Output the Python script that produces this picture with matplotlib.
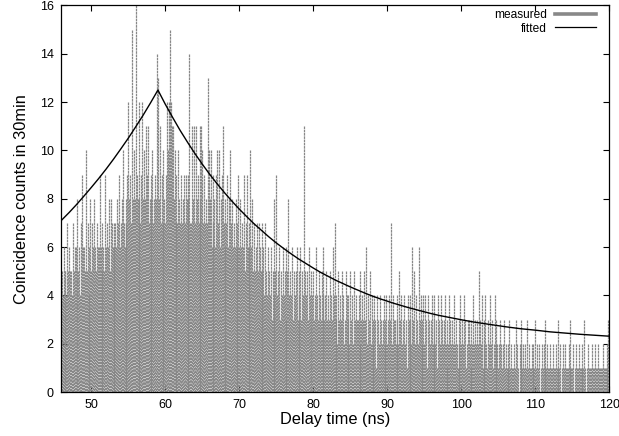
import numpy as np
import matplotlib
matplotlib.use("Agg")
import matplotlib.pyplot as plt
from matplotlib.collections import LineCollection
from matplotlib.lines import Line2D

plt.rcParams['font.family'] = ['Liberation Sans', 'DejaVu Sans']
plt.rcParams['lines.scale_dashes'] = False

# ---------------- data ----------------
bin_start = 45.875   # ns, first bin
bin_width = 0.125    # ns

counts_46_54 = [5,
    5, 4, 6, 5, 5, 4, 7, 5,
    6, 5, 5, 4, 7, 5, 6, 6,
    5, 8, 5, 6, 4, 7, 9, 6,
    6, 5, 10, 5, 7, 4, 6, 8,
    5, 7, 6, 8, 6, 5, 7, 6,
    6, 9, 6, 5, 7, 6, 5, 9,
    6, 7, 6, 8, 5, 8, 7, 6,
    7, 6, 7, 6, 8, 7, 9, 6]
counts_54_62 = [
    7, 8, 10, 7, 6, 8, 7, 9,
    12, 8, 9, 7, 15, 8, 10, 8,
    16, 9, 8, 8, 12, 7, 9, 12,
    8, 10, 8, 11, 9, 11, 7, 8,
    8, 9, 10, 7, 8, 9, 8, 14,
    13, 8, 11, 7, 9, 7, 10, 8,
    7, 9, 12, 10, 12, 15, 12, 11,
    11, 8, 10, 7, 9, 7, 10, 8]
counts_62_70 = [
    7, 9, 7, 8, 9, 7, 9, 8,
    9, 8, 14, 7, 7, 11, 8, 11,
    7, 11, 8, 9, 7, 11, 8, 11,
    10, 7, 9, 7, 8, 7, 13, 10,
    8, 10, 6, 9, 7, 8, 6, 9,
    10, 7, 10, 6, 8, 9, 11, 7,
    8, 6, 7, 9, 6, 8, 10, 7,
    8, 6, 7, 6, 8, 6, 7, 9]
counts_70_80 = [
    6, 8, 6, 7, 6, 9, 5, 7,
    9, 6, 7, 6, 10, 6, 8, 5,
    7, 5, 6, 7, 5, 7, 6, 5,
    7, 5, 6, 4, 7, 5, 4, 6,
    5, 4, 6, 3, 5, 8, 4, 5,
    9, 4, 5, 6, 3, 5, 4, 6,
    4, 5, 3, 6, 5, 8, 4, 5,
    4, 6, 3, 5, 4, 5, 6, 3,
    5, 4, 6, 3, 5, 4, 11, 5,
    4, 5, 3, 6, 4, 5, 3, 4]
counts_80_90 = [
    5, 3, 4, 6, 4, 3, 5, 4,
    3, 5, 4, 6, 3, 4, 5, 3,
    4, 3, 5, 4, 3, 6, 4, 7,
    3, 4, 2, 5, 3, 4, 3, 5,
    4, 2, 3, 5, 4, 3, 4, 2,
    5, 3, 4, 2, 5, 3, 4, 3,
    3, 4, 5, 2, 3, 4, 3, 5,
    3, 6, 2, 4, 3, 5, 2, 4,
    3, 2, 4, 3, 1, 4, 3, 2,
    4, 3, 2, 3, 4, 2, 3, 4]
counts_90_105 = [
    2, 3, 4, 3, 7, 2, 4, 3,
    3, 2, 4, 3, 2, 5, 3, 4,
    2, 3, 4, 2, 3, 1, 4, 3,
    3, 4, 2, 6, 3, 5, 2, 4,
    3, 2, 6, 3, 4, 2, 3, 4,
    2, 4, 3, 1, 4, 3, 2, 3,
    4, 2, 3, 4, 2, 3, 1, 4,
    3, 2, 4, 3, 2, 3, 4, 2,
    3, 1, 2, 4, 3, 2, 3, 2,
    4, 2, 3, 2, 1, 3, 2, 4,
    2, 3, 2, 4, 3, 1, 2, 3,
    3, 2, 1, 3, 2, 4, 2, 3,
    2, 3, 2, 5, 3, 2, 4, 1,
    3, 2, 4, 2, 1, 3, 2, 4,
    2, 3, 1, 2, 4, 2, 3, 2]
counts_105_120 = [
    1, 2, 3, 2, 1, 2, 3, 1,
    2, 1, 2, 1, 3, 1, 2, 1,
    1, 2, 1, 3, 2, 1, 0, 2,
    2, 3, 1, 2, 1, 2, 1, 3,
    1, 2, 1, 1, 2, 1, 2, 1,
    3, 1, 2, 1, 2, 0, 1, 2,
    1, 2, 1, 3, 1, 2, 1, 1,
    2, 1, 1, 2, 1, 1, 2, 1,
    1, 3, 1, 2, 0, 1, 2, 1,
    2, 1, 1, 1, 2, 1, 3, 1,
    1, 2, 0, 1, 2, 1, 1, 2,
    1, 1, 2, 1, 1, 3, 1, 0,
    1, 2, 1, 1, 1, 2, 1, 1,
    2, 0, 1, 1, 2, 1, 1, 1,
    1, 2, 1, 1, 1, 2, 1, 3]

fit_x = [45.86, 46, 47, 48, 49, 50, 51, 52, 53, 54, 55, 56, 57, 58, 59,
         60, 61, 62, 63, 64, 65, 66, 67, 68, 69, 70, 71, 72, 73, 74, 75,
         76, 77, 78, 79, 80, 81, 82, 83, 84, 85, 86, 87, 88, 89, 90, 91,
         92, 93, 94, 95, 96, 97, 98, 99, 100, 102, 104, 106, 108, 110,
         112, 114, 116, 118, 120]
fit_y = [7.08, 7.12, 7.43, 7.76, 8.11, 8.47, 8.84, 9.23, 9.64, 10.07, 10.51,
         10.98, 11.46, 11.97, 12.50,
         11.91, 11.36, 10.83, 10.34, 9.87, 9.43, 9.01, 8.62, 8.25, 7.90, 7.57,
         7.26, 6.96, 6.69, 6.42, 6.17, 5.94, 5.72, 5.51, 5.32, 5.13, 4.95,
         4.79, 4.63, 4.49, 4.35, 4.22, 4.09, 3.97, 3.86, 3.76, 3.66, 3.57,
         3.48, 3.40, 3.32, 3.24, 3.17, 3.11, 3.05, 2.99, 2.88, 2.79, 2.70,
         2.62, 2.56, 2.49, 2.44, 2.39, 2.35, 2.31]

x_ticks = [50, 60, 70, 80, 90, 100, 110, 120]
y_ticks = [0, 2, 4, 6, 8, 10, 12, 14, 16]

counts = np.array(counts_46_54 + counts_54_62 + counts_62_70 + counts_70_80 +
                  counts_80_90 + counts_90_105 + counts_105_120, dtype=float)
times = bin_start + np.arange(len(counts)) * bin_width

# ---------------- figure ----------------
W, H = 619, 436
fig = plt.figure(figsize=(W / 100, H / 100), dpi=100)
ax = fig.add_axes([60.7 / W, 1 - 392 / H, (609.3 - 60.7) / W, (392 - 5.5) / H])

gray = '#888888'
mask = counts > 0
segs = [[(t, c), (t, 0)] for t, c in zip(times[mask], counts[mask])]
lc = LineCollection(segs, colors=gray, linewidths=0.9,
                    linestyles=[(0, (1.9, 0.45))])
ax.add_collection(lc)

ax.plot(fit_x, fit_y, color='black', lw=1.0)

ax.set_xlim(45.86, 120)
ax.set_ylim(0, 16)
ax.set_xticks(x_ticks)
ax.set_yticks(y_ticks)
ax.tick_params(direction='in', length=4.2, width=0.8, top=True, right=True,
               labelsize=9)
ax.tick_params(axis='x', pad=5)
ax.tick_params(axis='y', pad=5)
for s in ax.spines.values():
    s.set_linewidth(0.9)

ax.set_xlabel('Delay time (ns)', fontsize=11.8, labelpad=1)
ax.set_ylabel('Coincidence counts in 30min', fontsize=11.8, labelpad=8)

handles = [Line2D([], [], color=gray, lw=2.6),
           Line2D([], [], color='black', lw=0.9)]
ax.legend(handles, ['measured', 'fitted'], loc='upper right',
          bbox_to_anchor=(0.9758, 0.99), frameon=False, markerfirst=False,
          fontsize=8.6, handlelength=3.4, handletextpad=0.7,
          labelspacing=0.1, borderpad=0, borderaxespad=0)

fig.savefig('out.png', dpi=100)
